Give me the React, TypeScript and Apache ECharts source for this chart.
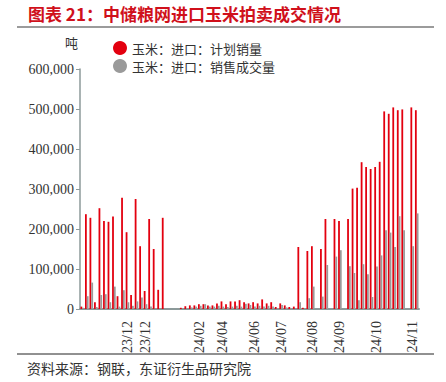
import React, { useEffect, useRef } from "react";
import * as echarts from "echarts";

const TITLE = "图表 21：中储粮网进口玉米拍卖成交情况";
const SOURCE = "资料来源：钢联，东证衍生品研究院";
const UNIT = "吨";
const SERIES_NAMES = ["玉米：进口：计划销量", "玉米：进口：销售成交量"];

// one entry per auction slot (null = no auction in that slot)
const planned: (number | null)[] = [
  6000, 237000, 228000, 17000, 252000, 220000, 218000, 231000, 32000, 278000,
  192000, 35000, 275000, 157000, 45000, 225000, 150000, 48000, 228000, null,
  null, null, 3000, 7000, 9000, 9000, 12000, 12000, 9000, 9000,
  14000, 19000, 12000, 19000, 19000, 22000, 17000, 14000, 17000, 14000,
  24000, 14000, 17000, 5000, 14000, 9000, 5000, 6000, 155000, 3000,
  145000, 157000, null, 150000, 225000, null, 225000, 220000, null, 225000,
  301000, 303000, 367000, 355000, 350000, 355000, 368000, 494000, 488000, 504000,
  497000, 499000, null, 504000, 497000,
];
const traded: (number | null)[] = [
  3000, 32000, 66000, 5000, 35000, 37000, 17000, 56000, 6000, 47000,
  17000, 8000, 19000, 29000, 12000, 6000, 2000, 0, 0, null,
  null, null, 0, 2000, 4000, 6000, 8000, 12000, 6000, 6000,
  8000, 6000, 5000, 6000, 8000, 6000, 13000, 10000, 6000, 8000,
  6000, 8000, 6000, 2000, 10000, 4000, 2000, 0, 17000, 0,
  27000, 56000, null, 31000, 110000, null, 131000, 147000, null, 107000,
  90000, 22000, 112000, 87000, 30000, 106000, 134000, 197000, 191000, 155000,
  232000, 197000, null, 157000, 239000,
];
const tickIndex = [10, 14, 26, 31, 38, 44, 51, 57, 65, 73];
const tickText = ["23/12", "23/12", "24/02", "24/04", "24/06", "24/07", "24/08", "24/09", "24/10", "24/11"];

const categories = planned.map((_, i) => String(i));

const CJK = "'Noto Sans CJK SC', sans-serif";
const SERIF = "'Liberation Serif', 'Times New Roman', serif";
const AXIS_COLOR = "#8c9a9a";

export default function App() {
  const ref = useRef<HTMLDivElement>(null);
  useEffect(() => {
    document.body.style.margin = "0";
    if (!ref.current) return;
    const chart = echarts.init(ref.current, undefined, { renderer: "svg" });
    chart.setOption({
      animation: false,
      backgroundColor: "#ffffff",
      grid: { left: 80, right: 27, top: 69, bottom: 73, containLabel: false },
      legend: {
        orient: "vertical",
        left: 108,
        top: 36,
        itemWidth: 14,
        itemHeight: 14,
        itemGap: 4,
        icon: "circle",
        textStyle: { fontFamily: CJK, fontSize: 13, color: "#333", lineHeight: 14 },
        data: SERIES_NAMES,
      },
      xAxis: {
        type: "category",
        data: categories,
        boundaryGap: true,
        axisLine: { show: true, lineStyle: { color: AXIS_COLOR, width: 2 } },
        axisTick: { show: false },
        axisLabel: {
          rotate: 90,
          margin: 12,
          fontFamily: SERIF,
          fontSize: 14,
          color: "#333",
          interval: (index: number) => tickIndex.includes(index),
          formatter: (_v: string, index: number) => {
            const k = tickIndex.indexOf(index);
            return k >= 0 ? tickText[k] : "";
          },
        },
        splitLine: { show: false },
      },
      yAxis: {
        type: "value",
        min: 0,
        max: 600000,
        interval: 100000,
        axisLine: { show: true, lineStyle: { color: AXIS_COLOR, width: 1.5 } },
        axisTick: { show: true, length: 4, lineStyle: { color: AXIS_COLOR } },
        splitLine: { show: false },
        axisLabel: {
          margin: 6,
          fontFamily: SERIF,
          fontSize: 14,
          color: "#333",
          formatter: (v: number) => v.toLocaleString("en-US"),
        },
      },
      series: [
        {
          name: SERIES_NAMES[0],
          type: "bar",
          data: planned,
          barWidth: 1.8,
          barGap: "0%",
          itemStyle: { color: "#E3000F" },
        },
        {
          name: SERIES_NAMES[1],
          type: "bar",
          data: traded,
          barWidth: 1.8,
          barGap: "0%",
          itemStyle: { color: "#9a9a9a" },
        },
      ],
      graphic: [
        {
          type: "text",
          left: 28,
          top: 5,
          style: { text: TITLE, fontFamily: CJK, fontSize: 17, fontWeight: "bold", fill: "#D0101B" },
        },
        {
          type: "line",
          shape: { x1: 17, y1: 27, x2: 434, y2: 27 },
          style: { stroke: "#7a7a7a", lineWidth: 1.5 },
        },
        {
          type: "text",
          left: 65,
          top: 36,
          style: { text: UNIT, fontFamily: CJK, fontSize: 13, fill: "#333" },
        },
        {
          type: "line",
          shape: { x1: 17, y1: 354, x2: 434, y2: 354 },
          style: { stroke: "#222", lineWidth: 1 },
        },
        {
          type: "text",
          left: 27,
          top: 361,
          style: { text: SOURCE, fontFamily: CJK, fontSize: 14, fill: "#333" },
        },
      ],
    });
    return () => chart.dispose();
  }, []);
  return <div ref={ref} style={{ width: 446, height: 382 }} />;
}
